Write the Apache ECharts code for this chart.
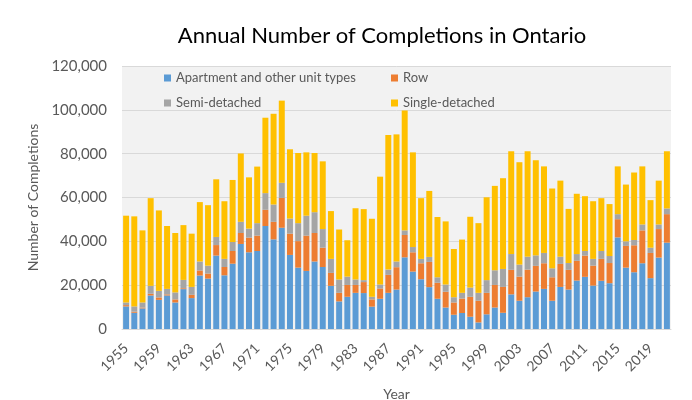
<!DOCTYPE html>
<html>
<head>
<meta charset="utf-8">
<script src="https://cdn.jsdelivr.net/npm/echarts@6/dist/echarts.min.js"></script>
<style>
html,body{margin:0;padding:0;background:#fff;}
#chart{width:692px;height:400px;}
</style>
</head>
<body>
<div id="chart"></div>
<script>
const years = [];
for (let y = 1955; y <= 2021; y++) years.push(String(y));

const apartment = [10300,7400,9400,15300,13300,15300,12100,18200,14100,24400,
23000,33500,24500,29800,38800,35000,35600,47000,40900,46200,
33800,28000,26500,30800,28300,19700,12600,14700,16500,16400,
10200,13800,16500,18000,32700,26200,22700,19100,13800,9800,
6500,7300,5600,3000,6700,9800,7400,15800,12900,14500,
17100,18300,12900,19200,18000,22100,23800,19800,22000,20900,
41800,28000,25900,30000,23200,32600,39400];

const row = [600,500,400,800,1100,500,1400,400,1500,2300,
2300,4800,3800,5800,5000,6700,7000,7400,8000,13600,
9700,12100,16100,13000,8800,5900,3900,5400,3600,5000,
3300,4700,8200,10200,10200,8800,7300,11500,7300,7200,
5600,6600,9100,9900,9800,10300,11800,11200,11000,12600,
11700,11700,10700,10500,9000,9000,9700,9100,10000,9200,
8300,9900,12300,15000,11500,13000,13000];

const semi = [1200,2400,2300,3600,3000,2500,3200,3800,3600,4100,
3600,3700,3700,4100,5100,4100,5700,7600,7900,6900,
6900,8200,9100,9500,8500,6400,6100,3800,2500,900,
1200,1800,2400,2600,2100,2400,2000,2300,2500,3300,
2400,2600,4200,3600,5800,6700,8200,7200,5500,5900,
4800,4700,4100,3300,3100,3100,2100,3100,3600,3200,
2300,2100,2400,2700,2400,2100,2600];

const single = [39600,41100,32900,40000,36700,28700,27100,25000,24300,27100,
27600,26300,26300,28300,31200,23400,25800,34400,41400,37500,
31600,32000,28900,27000,30900,21800,22800,16600,32500,32400,
35600,49200,61400,58000,54700,43200,27700,30100,27500,28800,
22000,24300,32300,31800,37800,38500,41400,46900,46700,48100,
43400,39500,36400,34700,24700,27500,25000,26300,24100,23700,
21800,25900,30800,26500,21700,20000,26100];

const seriesNames = ['Apartment and other unit types','Row','Semi-detached','Single-detached'];
const seriesData = [apartment, row, semi, single];
const colors = ['#5B9BD5','#ED7D31','#A5A5A5','#FFC000'];

const FONT = 'Lato';
const chart = echarts.init(document.getElementById('chart'), null, {renderer:'canvas'});

function legendAt(name, left, top){
  return {
    data:[name], left:left, top:top, orient:'horizontal',
    icon:'rect', itemWidth:7, itemHeight:7,
    textStyle:{fontFamily:FONT, fontSize:13, color:'#595959', lineHeight:14},
    selectedMode:false, padding:0
  };
}

chart.setOption({
  animation:false,
  color: colors,
  title:{
    text:'Annual Number of Completions in Ontario',
    left:377, top:20, textAlign:'center',
    textStyle:{fontFamily:FONT, fontSize:22, fontWeight:'normal', color:'#000'}
  },
  legend:[
    legendAt(seriesNames[0],164,71),
    legendAt(seriesNames[1],391,71),
    legendAt(seriesNames[2],164,96),
    legendAt(seriesNames[3],391,96)
  ],
  grid:{left:122, right:21, top:66, bottom:71, show:true, backgroundColor:'#F2F2F2', borderWidth:0,
        containLabel:false, outerBoundsMode:'none'},
  xAxis:{
    type:'category', data:years,
    name:'Year', nameLocation:'middle', nameGap:58,
    nameTextStyle:{fontFamily:FONT, fontSize:14, color:'#595959'},
    axisTick:{show:false},
    axisLine:{lineStyle:{color:'#D9D9D9'}},
    axisLabel:{interval:3, rotate:45, fontFamily:FONT, fontSize:14, color:'#595959', margin:17}
  },
  yAxis:{
    type:'value', min:0, max:120000, interval:20000,
    name:'Number of Completions', nameLocation:'middle', nameGap:77,
    nameTextStyle:{fontFamily:FONT, fontSize:14, color:'#595959'},
    axisLine:{show:false}, axisTick:{show:false},
    splitLine:{lineStyle:{color:'#D9D9D9'}},
    axisLabel:{fontFamily:FONT, fontSize:15, color:'#595959', margin:15,
      formatter:function(v){return v.toLocaleString('en-US');}}
  },
  series: seriesNames.map(function(n,i){
    return {name:n, type:'bar', stack:'total', data:seriesData[i], barCategoryGap:'27%'};
  })
});
</script>
</body>
</html>
